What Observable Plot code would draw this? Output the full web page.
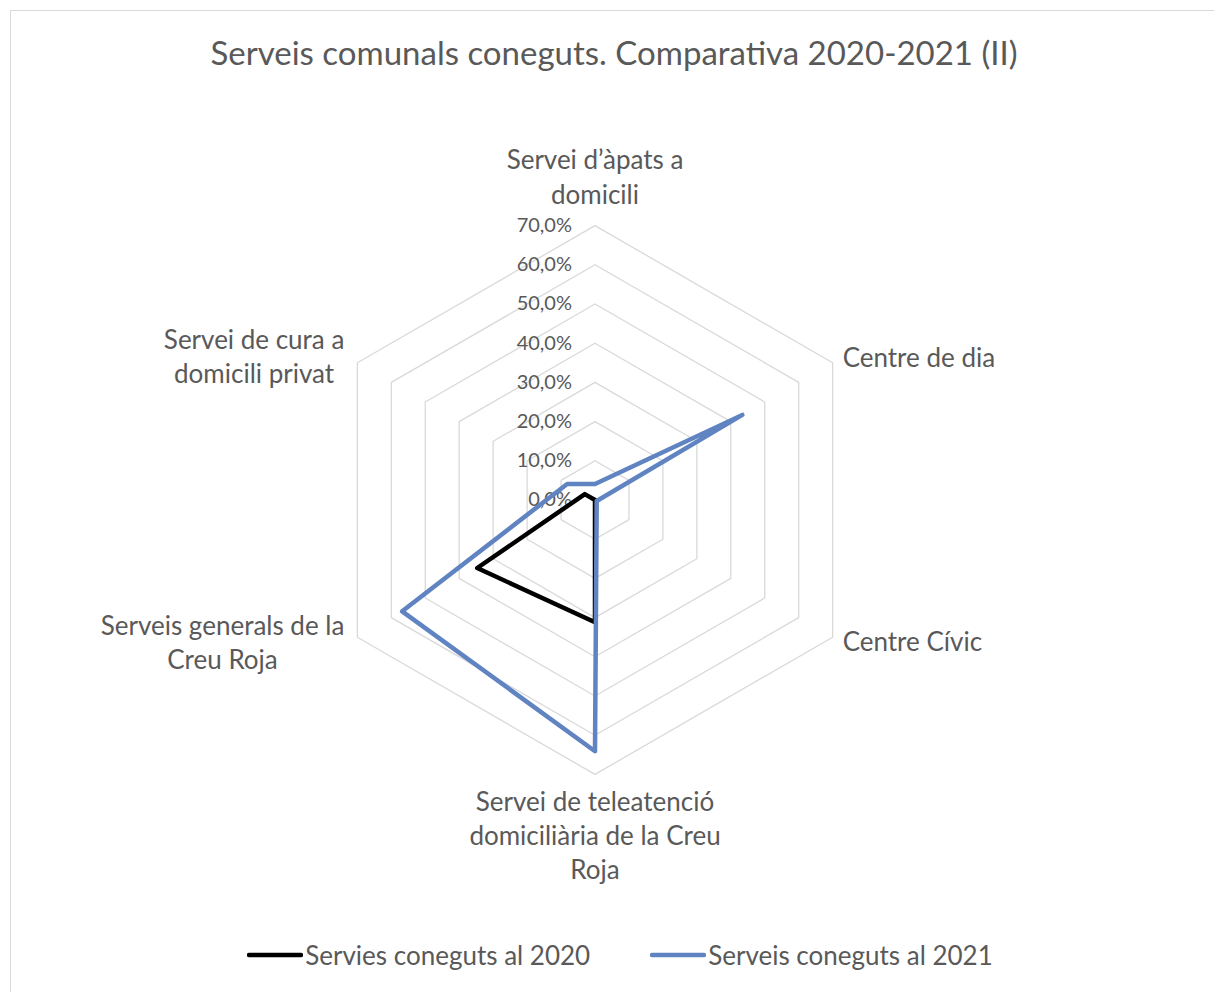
<!DOCTYPE html>
<html><head><meta charset="utf-8">
<script src="https://cdn.jsdelivr.net/npm/d3@7"></script>
<script src="https://cdn.jsdelivr.net/npm/@observablehq/plot@0.6"></script>
<style>
html,body{margin:0;padding:0;background:#fff;}
body{width:1214px;height:992px;position:relative;overflow:hidden;font-family:Lato,"Open Sans",sans-serif;color:#595959;}
#frame{position:absolute;left:10px;top:10px;width:1230px;height:1010px;border:1px solid #d9d9d9;box-sizing:border-box;}
#title{position:absolute;top:30px;left:0;width:1228px;text-align:center;font-size:33px;line-height:44px;white-space:nowrap;}
#chart{position:absolute;top:100px;left:0;}
#legend{position:absolute;top:938px;left:0;width:1240px;display:flex;justify-content:center;align-items:center;font-size:26px;line-height:34px;white-space:nowrap;}
.item{display:flex;align-items:center;}
.item svg{display:block;margin-right:2px;}
.gap{width:60px;}
</style>
</head><body>
<div id="frame"></div>
<div id="title"></div>
<div id="chart"></div>
<div id="legend"></div>
<script>
// ---- data ----
const titleText = "Serveis comunals coneguts. Comparativa 2020-2021 (II)";
const categories = [
  "Servei d’àpats a domicili",
  "Centre de dia",
  "Centre Cívic",
  "Servei de teleatenció domiciliària de la Creu Roja",
  "Serveis generals de la Creu Roja",
  "Servei de cura a domicili privat"
];
const categoryLines = [
  ["Servei d’àpats a", "domicili"],
  ["Centre de dia"],
  ["Centre Cívic"],
  ["Servei de teleatenció", "domiciliària de la Creu", "Roja"],
  ["Serveis generals de la", "Creu Roja"],
  ["Servei de cura a", "domicili privat"]
];
const seriesNames = ["Servies coneguts al 2020", "Serveis coneguts al 2021"];
const values2020 = [0.0, 0.0, 0.0, 31.2, 34.7, 3.0];
const values2021 = [4.1, 43.4, 0.5, 64.1, 56.8, 8.2];
const seriesColors = ["#000000", "#6083c1"];
const tickValues = [0, 10, 20, 30, 40, 50, 60, 70];
const tickLabels = ["0,0%", "10,0%", "20,0%", "30,0%", "40,0%", "50,0%", "60,0%", "70,0%"];

// ---- layout ----
const W = 1214, H = 780;
const cx = 594.5, cy = 399.5;
const pxPerUnit = 3.92;
const rMax = d3.max(tickValues);
const n = categories.length;
const ang = i => i * 2 * Math.PI / n;
const px = (i, v) => v * Math.sin(ang(i));
const py = (i, v) => v * Math.cos(ang(i));
const FONT = 'Lato, "Open Sans", sans-serif';
const textColor = "#595959", gridColor = "#d9d9d9";

document.getElementById("title").textContent = titleText;

// rings
const ringData = [];
tickValues.filter(t => t > 0).forEach(t => {
  for (let i = 0; i <= n; i++) ringData.push({ring: t, x: px(i % n, t), y: py(i % n, t)});
});
// series
const seriesData = [];
[values2020, values2021].forEach((vals, s) => {
  for (let i = 0; i <= n; i++) seriesData.push({series: seriesNames[s], x: px(i % n, vals[i % n]), y: py(i % n, vals[i % n])});
});
const tickData = tickValues.map((t, k) => ({x: 0, y: t, label: tickLabels[k]}));

// measure text
const ctx = document.createElement("canvas").getContext("2d");
const catFont = 26;
ctx.font = `${catFont}px ${FONT}`;
const measure = s => ctx.measureText(s).width;

const labelMarks = categoryLines.map((lines, i) => {
  const a = ang(i);
  const s = Math.sin(a), c = Math.cos(a);
  const opt = {x: "x", y: "y", text: "t", fill: textColor, fontSize: catFont, lineHeight: 1.32, fontFamily: FONT};
  const d = [{x: px(i, rMax), y: py(i, rMax), t: lines.join("\n")}];
  if (Math.abs(s) < 1e-6) {
    if (c > 0) Object.assign(opt, {textAnchor: "middle", lineAnchor: "bottom", dy: -22});
    else Object.assign(opt, {textAnchor: "middle", lineAnchor: "top", dy: 12});
  } else if (s > 0) {
    Object.assign(opt, {textAnchor: "start", lineAnchor: "middle", dx: 10, dy: c > 0 ? -7 : 3});
  } else {
    const w = d3.max(lines, measure);
    Object.assign(opt, {textAnchor: "middle", lineAnchor: "middle", dx: -(w / 2 + 13), dy: c > 0 ? -8 : 4});
  }
  return Plot.text(d, opt);
});

const chart = Plot.plot({
  width: W, height: H,
  margin: 0,
  style: {background: "transparent", overflow: "visible"},
  x: {domain: [-cx / pxPerUnit, (W - cx) / pxPerUnit], axis: null},
  y: {domain: [-(H - cy) / pxPerUnit, cy / pxPerUnit], axis: null},
  color: {domain: seriesNames, range: seriesColors},
  marks: [
    Plot.line(ringData, {x: "x", y: "y", z: "ring", stroke: gridColor, strokeWidth: 1.3}),
    Plot.text(tickData, {x: "x", y: "y", text: "label", textAnchor: "end", dx: -23, fill: textColor, fontSize: 20, fontFamily: FONT}),
    ...labelMarks,
    Plot.line(seriesData, {x: "x", y: "y", z: "series", stroke: "series", strokeWidth: 4.5, strokeLinejoin: "round", strokeLinecap: "round"})
  ]
});
document.getElementById("chart").appendChild(chart);

// legend
const legend = document.getElementById("legend");
seriesNames.forEach((name, s) => {
  if (s > 0) { const g = document.createElement("div"); g.className = "gap"; legend.appendChild(g); }
  const item = document.createElement("div"); item.className = "item";
  item.innerHTML = `<svg width="56" height="10"><line x1="2" y1="5" x2="54" y2="5" stroke="${seriesColors[s]}" stroke-width="4.5" stroke-linecap="round"/></svg><span>${name}</span>`;
  legend.appendChild(item);
});
</script>
</body></html>
